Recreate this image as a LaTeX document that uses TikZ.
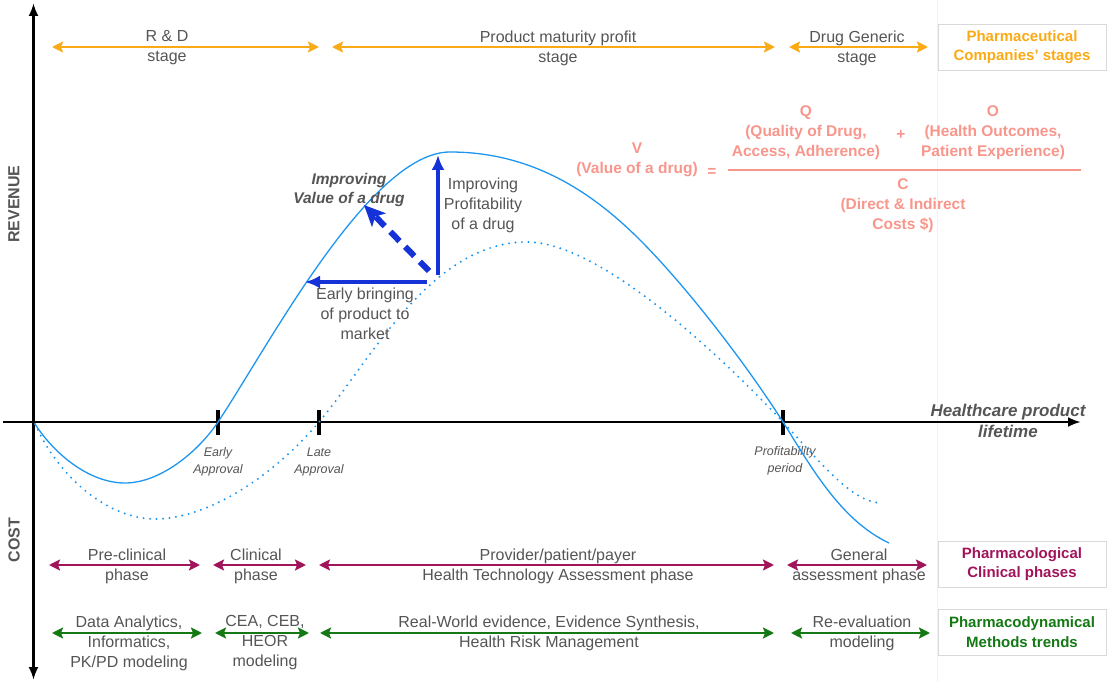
\documentclass[tikz,border=0pt]{standalone}
\usepackage{fontspec}
\setmainfont{Liberation Sans}
\usepackage{xcolor}
\usetikzlibrary{arrows.meta, positioning}

\definecolor{stageorange}{RGB}{250,170,20}
\definecolor{phasered}{RGB}{160,20,90}
\definecolor{methodgreen}{RGB}{20,120,20}
\definecolor{valuepink}{RGB}{248,150,140}
\definecolor{curveblue}{RGB}{30,150,240}
\definecolor{pushblue}{RGB}{20,50,215}
\definecolor{txtgray}{RGB}{85,85,85}

\begin{document}
\begin{tikzpicture}[
        x=1pt, y=-1pt,
        every node/.style={text=txtgray, font=\fontsize{16}{20}\selectfont, inner sep=1pt},
        lbl/.style={align=center},
        ticklbl/.style={align=center, font=\itshape\fontsize{12.5}{16.5}\selectfont},
        axlbl/.style={font=\bfseries\fontsize{16}{19}\selectfont, rotate=90},
        legend/.style={draw=black!15, line width=0.8pt, minimum width=168pt, minimum height=46pt, align=center, font=\bfseries\fontsize{15}{19.5}\selectfont},
        value/.style={align=center, text=valuepink, font=\bfseries\fontsize{15.5}{20}\selectfont},
        stagearr/.style={{Stealth[length=11pt,width=11pt,inset=2pt]}-{Stealth[length=11pt,width=11pt,inset=2pt]}, line width=2.5pt},
        axisarr/.style={-{Latex[length=13pt,width=10pt]}, line width=2.8pt},
        ticker/.style={line width=3.5pt},
        push/.style={-{Latex[length=15pt,width=13pt]}, line width=4pt, pushblue}
    ]
        \useasboundingbox (0,0) rectangle (1112,682);
        \draw[black!5, line width=1pt] (937,0) -- (937,682);

        % axes
        \coordinate (ytop) at (33.5,3);
        \coordinate (ybot) at (33.5,680);
        \coordinate (xl) at (3,422);
        \coordinate (xr) at (1081,422);
        \draw[{Latex[length=13pt,width=10pt]}-{Latex[length=13pt,width=10pt]}, line width=2.8pt] (ybot) -- (ytop);
        \draw[axisarr] (xl) -- (xr);
        \node[axlbl] (rev) at (14,204) {REVENUE};
        \node[axlbl] (cost) at (14,540) {COST};
        \node[align=center, font=\bfseries\itshape\fontsize{17}{21.5}\selectfont] (life) at (1008,421) {Healthcare product\\lifetime};

        % approvals
        \coordinate (t1a) at (218,410); \coordinate (t1b) at (218,435);
        \coordinate (t2a) at (319,410); \coordinate (t2b) at (319,435);
        \coordinate (t3a) at (783,410); \coordinate (t3b) at (783,435);
        \draw[ticker] (t1a) -- (t1b);
        \draw[ticker] (t2a) -- (t2b);
        \draw[ticker] (t3a) -- (t3b);
        \node[ticklbl] (early) at (218,462) {Early\\Approval};
        \node[ticklbl] (late) at (319,462) {Late\\Approval};
        \node[ticklbl] (profit) at (785,461) {Profitability\\period};

        % curves
        \draw[curveblue, line width=1.3pt] (35,424)
            .. controls (55,455) and (90,483) .. (125,483)
            .. controls (160,483) and (198,452) .. (218,422)
            .. controls (268,347) and (370,152) .. (450,152)
            .. controls (530,152) and (590,190) .. (640,240)
            .. controls (690,290) and (750,370) .. (783,422)
            .. controls (810,465) and (840,520) .. (889,543);
        \draw[curveblue, line width=2.2pt, line cap=round, dash pattern=on 0pt off 6.5pt] (35,424)
            .. controls (60,480) and (110,519) .. (155,519)
            .. controls (205,519) and (270,480) .. (319,422)
            .. controls (370,362) and (430,242) .. (527,242)
            .. controls (600,242) and (720,355) .. (783,422)
            .. controls (820,462) and (850,500) .. (879,503);

        % pushes
        \coordinate (vbot) at (438,275);
        \coordinate (vtop) at (438,155);
        \coordinate (hright) at (427,282);
        \coordinate (hleft) at (305,282);
        \coordinate (dstart) at (429,271);
        \coordinate (dend) at (364,205);
        \draw[push] (vbot) -- (vtop);
        \draw[push] (hright) -- (hleft);
        \draw[-{Stealth[length=21pt,width=19pt,inset=5pt]}, line width=6pt, pushblue, dash pattern=on 13pt off 8pt] (dstart) -- (dend);
        \node[lbl] (profUp) at (483,205) {Improving\\Profitability\\of a drug};
        \node[lbl] (bringEarly) at (365,314) {Early bringing\\of product to\\market};
        \node[align=center, font=\bfseries\itshape\fontsize{15.5}{19.5}\selectfont] (valueUp) at (349,190) {Improving\\Value of a drug};

        % value of a drug
        \node[value] (vnode) at (637,160) {V\\(Value of a drug)};
        \node[value] (eq) at (712,172) {=};
        \coordinate (fracL) at (728,170);
        \coordinate (fracR) at (1081,170);
        \draw[valuepink, line width=1.2pt] (fracL) -- (fracR);
        \node[value] (qnode) at (806,133) {Q\\(Quality of Drug,\\Access, Adherence)};
        \node[value] (plus) at (901,135) {+};
        \node[value] (onode) at (993,133) {O\\(Health Outcomes,\\Patient Experience)};
        \node[value] (cnode) at (903,206) {C\\(Direct \& Indirect\\Costs \$)};

        % pharmaceutical companies' stages
        \coordinate (s1L) at (52,47);  \coordinate (s1R) at (319,47);
        \coordinate (s2L) at (332,47); \coordinate (s2R) at (775,47);
        \coordinate (s3L) at (789,47); \coordinate (s3R) at (928,47);
        \draw[stagearr, stageorange] (s1L) -- (s1R);
        \draw[stagearr, stageorange] (s2L) -- (s2R);
        \draw[stagearr, stageorange] (s3L) -- (s3R);
        \node[lbl] (rd) at (167,48) {R \& D\\stage};
        \node[lbl] (mature) at (558,48) {Product maturity profit\\stage};
        \node[lbl] (generic) at (857,48) {Drug Generic\\stage};
        \node[legend, text=stageorange] (stageKey) at (1022,47) {Pharmaceutical\\Companies’ stages};

        % pharmacological clinical phases
        \coordinate (p1L) at (49,565);  \coordinate (p1R) at (200,565);
        \coordinate (p2L) at (213,565); \coordinate (p2R) at (306,565);
        \coordinate (p3L) at (319,565); \coordinate (p3R) at (774,565);
        \coordinate (p4L) at (787,565); \coordinate (p4R) at (927,565);
        \draw[stagearr, phasered] (p1L) -- (p1R);
        \draw[stagearr, phasered] (p2L) -- (p2R);
        \draw[stagearr, phasered] (p3L) -- (p3R);
        \draw[stagearr, phasered] (p4L) -- (p4R);
        \node[lbl] (preclin) at (127,566) {Pre-clinical\\phase};
        \node[lbl] (clin) at (256,566) {Clinical\\phase};
        \node[lbl] (hta) at (558,566) {Provider/patient/payer\\Health Technology Assessment phase};
        \node[lbl] (general) at (859,566) {General\\assessment phase};
        \node[legend, text=phasered] (phaseKey) at (1022,564) {Pharmacological\\Clinical phases};

        % pharmacodynamical methods trends
        \coordinate (m1L) at (52,633);  \coordinate (m1R) at (202,633);
        \coordinate (m2L) at (215,633); \coordinate (m2R) at (309,633);
        \coordinate (m3L) at (320,633); \coordinate (m3R) at (774,633);
        \coordinate (m4L) at (791,633); \coordinate (m4R) at (930,633);
        \draw[stagearr, methodgreen] (m1L) -- (m1R);
        \draw[stagearr, methodgreen] (m2L) -- (m2R);
        \draw[stagearr, methodgreen] (m3L) -- (m3R);
        \draw[stagearr, methodgreen] (m4L) -- (m4R);
        \node[lbl] (analytics) at (129,643) {Data Analytics,\\Informatics,\\PK/PD modeling};
        \node[lbl] (heor) at (265,643) {CEA, CEB,\\HEOR\\modeling};
        \node[lbl] (rwe) at (549,633) {Real-World evidence, Evidence Synthesis,\\Health Risk Management};
        \node[lbl] (reeval) at (862,633) {Re-evaluation\\modeling};
        \node[legend, text=methodgreen] (methodKey) at (1022,632) {Pharmacodynamical\\Methods trends};
    \end{tikzpicture}
\end{document}
